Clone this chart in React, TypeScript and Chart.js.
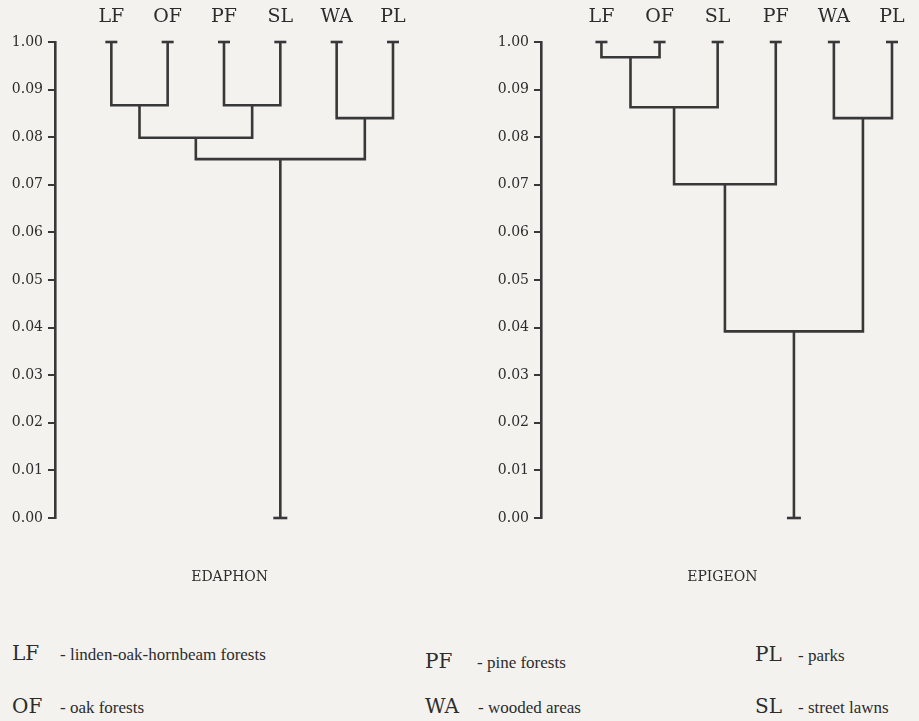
import React, { useEffect, useRef } from "react";
import { Chart, registerables } from "chart.js";

Chart.register(...registerables);

// ---- data ----
const yTickValues = [0, 0.01, 0.02, 0.03, 0.04, 0.05, 0.06, 0.07, 0.08, 0.09, 0.1];
const yTickLabels = ["0.00", "0.01", "0.02", "0.03", "0.04", "0.05", "0.06", "0.07", "0.08", "0.09", "1.00"];
const leafTop = 0.1;

const edaphonLeaves = ["LF", "OF", "PF", "SL", "WA", "PL"];
// [childA, childB, height] ; new clusters get ids 6, 7, ...
const edaphonLinks: [number, number, number][] = [
  [0, 1, 0.0867],
  [2, 3, 0.0867],
  [4, 5, 0.084],
  [6, 7, 0.0799],
  [9, 8, 0.0754],
];

const epigeonLeaves = ["LF", "OF", "SL", "PF", "WA", "PL"];
const epigeonLinks: [number, number, number][] = [
  [0, 1, 0.0968],
  [6, 2, 0.0863],
  [4, 5, 0.084],
  [7, 3, 0.0701],
  [9, 8, 0.0392],
];

const legendKeys = ["LF", "OF", "PF", "WA", "PL", "SL"];
const legendNames = [
  "- linden-oak-hornbeam forests",
  "- oak forests",
  "- pine forests",
  "- wooded areas",
  "- parks",
  "- street lawns",
];

// ---- styles ----
const ink = "#383838";
const textInk = "#2c2c2c";
const bg = "#f3f2ef";

function buildDatasets(leaves: string[], links: [number, number, number][]) {
  const xs: number[] = leaves.map((_, i) => i);
  const hs: number[] = leaves.map(() => leafTop);
  const lineStyle = {
    showLine: true,
    borderColor: ink,
    borderWidth: 2.6,
    pointRadius: 0,
    borderJoinStyle: "miter" as const,
    borderCapStyle: "butt" as const,
    clip: false as const,
    tension: 0,
  };
  const datasets: any[] = [];
  links.forEach(([a, b, h]) => {
    datasets.push({
      ...lineStyle,
      data: [
        { x: xs[a], y: hs[a] },
        { x: xs[a], y: h },
        { x: xs[b], y: h },
        { x: xs[b], y: hs[b] },
      ],
    });
    xs.push((xs[a] + xs[b]) / 2);
    hs.push(h);
  });
  const root = xs.length - 1;
  datasets.push({
    ...lineStyle,
    data: [
      { x: xs[root], y: hs[root] },
      { x: xs[root], y: 0 },
    ],
  });
  datasets.push({
    showLine: false,
    data: leaves.map((_, i) => ({ x: i, y: leafTop })),
    pointStyle: "line",
    pointRadius: 6,
    pointBorderWidth: 2.6,
    pointBorderColor: ink,
    pointBackgroundColor: ink,
    clip: false,
  });
  datasets.push({
    showLine: false,
    data: [{ x: xs[root], y: 0 }],
    pointStyle: "line",
    pointRadius: 7,
    pointBorderWidth: 2.6,
    pointBorderColor: ink,
    pointBackgroundColor: ink,
    clip: false,
  });
  return datasets;
}

function Dendrogram(props: {
  leaves: string[];
  links: [number, number, number][];
  title: string;
  left: number;
  width: number;
  xMin: number;
  xMax: number;
  padRight: number;
}) {
  const ref = useRef<HTMLCanvasElement>(null);
  useEffect(() => {
    if (!ref.current) return;
    const { leaves, links, title } = props;
    const chart = new Chart(ref.current, {
      type: "scatter",
      data: { datasets: buildDatasets(leaves, links) },
      options: {
        animation: false,
        responsive: false,
        events: [],
        layout: { padding: { top: 0, left: 10, right: props.padRight, bottom: 10 } },
        plugins: {
          legend: { display: false },
          tooltip: { enabled: false },
          title: {
            display: true,
            text: title,
            position: "bottom",
            fullSize: false,
            color: textInk,
            font: { family: "DejaVu Serif", size: 14, weight: "normal", lineHeight: 1.2 },
            padding: { top: 50.6, bottom: 4.6 },
          },
        },
        scales: {
          x: {
            type: "linear",
            position: "top",
            min: props.xMin,
            max: props.xMax,
            afterBuildTicks: (s: any) => {
              s.ticks = leaves.map((_, i) => ({ value: i }));
            },
            afterFit: (s: any) => {
              s.height = 42;
            },
            grid: { display: false, drawTicks: false },
            border: { display: false },
            ticks: {
              autoSkip: false,
              maxRotation: 0,
              padding: 14,
              color: textInk,
              font: { family: "DejaVu Serif", size: 19 },
              callback: (_v: any, i: number) => leaves[i],
            },
          },
          y: {
            type: "linear",
            min: 0,
            max: 0.1,
            afterBuildTicks: (s: any) => {
              s.ticks = yTickValues.map((v) => ({ value: v }));
            },
            afterFit: (s: any) => {
              s.width = 45;
            },
            grid: {
              drawOnChartArea: false,
              drawTicks: true,
              tickLength: 7,
              color: ink,
              lineWidth: 2,
            },
            border: { display: true, color: ink, width: 2.6 },
            ticks: {
              padding: 5,
              color: textInk,
              font: { family: "DejaVu Serif", size: 14 },
              callback: (_v: any, i: number) => yTickLabels[i],
            },
          },
        },
      } as any,
    });
    return () => chart.destroy();
  }, []);
  return (
    <canvas
      ref={ref}
      width={props.width}
      height={600}
      style={{ position: "absolute", left: props.left, top: 0, width: props.width, height: 600 }}
    />
  );
}

const legendPos = [
  { left: 12, top: 641, gap: 48 },
  { left: 12, top: 694, gap: 48 },
  { left: 425, top: 649, gap: 52 },
  { left: 425, top: 694, gap: 53 },
  { left: 755, top: 642, gap: 43 },
  { left: 755, top: 694, gap: 43 },
];

export default function App() {
  return (
    <div
      style={{
        position: "absolute",
        left: 0,
        top: 0,
        width: 919,
        height: 721,
        background: bg,
        overflow: "hidden",
      }}
    >
      <Dendrogram
        leaves={edaphonLeaves}
        links={edaphonLinks}
        title="EDAPHON"
        left={0}
        width={420}
        xMin={-1}
        xMax={5.2}
        padRight={5}
      />
      <Dendrogram
        leaves={epigeonLeaves}
        links={epigeonLinks}
        title="EPIGEON"
        left={486}
        width={433}
        xMin={-1.04}
        xMax={5.2}
        padRight={2}
      />
      {legendKeys.map((k, i) => (
        <div
          key={k}
          style={{
            position: "absolute",
            left: legendPos[i].left,
            top: legendPos[i].top,
            fontFamily: "DejaVu Serif",
            fontSize: 20,
            lineHeight: "24px",
            color: textInk,
            whiteSpace: "nowrap",
          }}
        >
          <span style={{ display: "inline-block", width: legendPos[i].gap }}>{k}</span>
          <span style={{ fontFamily: "Liberation Serif", fontSize: 17 }}>{legendNames[i]}</span>
        </div>
      ))}
    </div>
  );
}
